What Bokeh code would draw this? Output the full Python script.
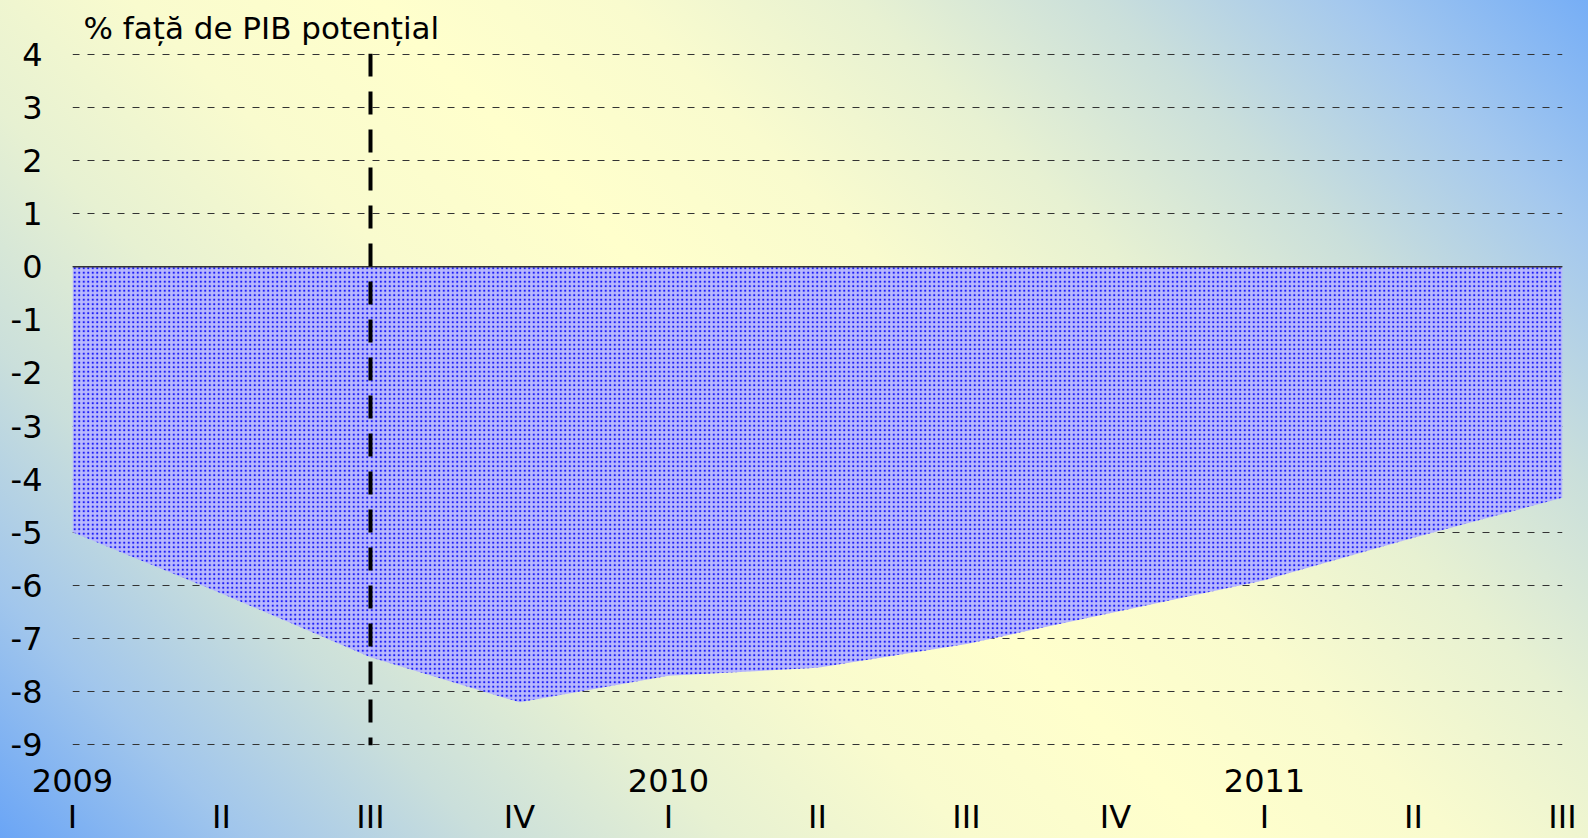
from bokeh.plotting import figure
from bokeh.models import (Range1d, FixedTicker, Span, LinearAxis,
                          ColumnDataSource, GlobalInlineStyleSheet)
from bokeh.embed import file_html
from bokeh.resources import INLINE

# ---- data ----
title_text = "% față de PIB potențial"
years = ["2009", "2010", "2011"]
quarters = ["I", "II", "III", "IV", "I", "II", "III", "IV", "I", "II", "III"]
output_gap = [-5.0, -6.15, -7.35, -8.2, -7.7, -7.55, -7.1, -6.5, -5.9, -5.1, -4.35]
forecast_start = 2          # index of 2009 Q III (dashed vertical line)
y_ticks = list(range(-9, 5))

FONT = "DejaVu Sans"
n = len(output_gap)
xs = list(range(n))

p = figure(width=1588, height=838, output_backend="svg", toolbar_location=None,
           x_range=Range1d(0, n - 1),
           y_range=Range1d(min(y_ticks) - 0.012, max(y_ticks) + 0.012),
           x_axis_location=None,
           min_border_left=72, min_border_right=26, min_border_top=52,
           min_border_bottom=92,
           border_fill_color=None, background_fill_color=None,
           outline_line_color=None)

# background: 45deg gradient blue (bottom-left / top-right) -> pale yellow
stops = ("#6aa5f6 0%,#a1c6ec 10%,#cadfdb 20%,#e7f1d2 30%,#f9fbce 40%,"
         "#ffffcc 50%,#f9fbce 60%,#e7f1d2 70%,#cadfdb 80%,#a4c8ee 90%,"
         "#76aef6 100%")
css = ("html{height:100%;background:linear-gradient(45deg," + stops +
       ") no-repeat;} body{background:transparent;}")
p.stylesheets = [GlobalInlineStyleSheet(css=css)]

# title
p.title.text = title_text
p.title.text_font = FONT
p.title.text_font_size = "31px"
p.title.text_font_style = "normal"
p.title.text_color = "black"
p.title.align = "left"
p.title.offset = 11
p.title.standoff = 15

# area (output gap)
src = ColumnDataSource(dict(x=xs, gap=output_gap))
p.varea(x="x", y1=0, y2="gap", source=src, fill_color="#b8b8fd",
        hatch_pattern="dot", hatch_color="#1c1cf8", hatch_scale=4.5,
        hatch_weight=1.5)

# zero line
p.add_layout(Span(location=0, dimension="width", line_color="#333333",
                  line_width=1.5))
# forecast start
p.add_layout(Span(location=forecast_start, dimension="height",
                  line_color="black", line_width=4, line_dash="23 15"))

# grid
p.xgrid.visible = False
p.ygrid.ticker = FixedTicker(ticks=y_ticks)
p.ygrid.grid_line_color = "#333333"
p.ygrid.grid_line_dash = "7 8"
p.ygrid.grid_line_width = 1

# y axis
p.yaxis.ticker = FixedTicker(ticks=y_ticks)
p.yaxis.major_label_overrides = {t: str(t) for t in y_ticks}
p.yaxis.major_label_standoff = 30
p.yaxis.major_label_text_font_size = "32px"

# x axes: years (nearest to the plot), then quarters
year_ticks = [4 * i for i in range(len(years))]
year_axis = LinearAxis(ticker=FixedTicker(ticks=year_ticks),
                       major_label_overrides={t: y for t, y in zip(year_ticks, years)},
                       major_label_standoff=23)
q_axis = LinearAxis(ticker=FixedTicker(ticks=xs),
                    major_label_overrides={x: q for x, q in zip(xs, quarters)},
                    major_label_standoff=3)
p.add_layout(year_axis, "below")
p.add_layout(q_axis, "below")
year_axis.major_label_text_font_size = "32px"
q_axis.major_label_text_font_size = "32px"

for ax in (year_axis, q_axis, p.yaxis[0]):
    ax.axis_line_color = None
    ax.major_tick_line_color = None
    ax.minor_tick_line_color = None
    ax.major_tick_in = 0
    ax.major_tick_out = 0
    ax.minor_tick_out = 0
    ax.major_label_text_font = FONT
    ax.major_label_text_color = "black"

open("out.html", "w").write(file_html(p, INLINE))
